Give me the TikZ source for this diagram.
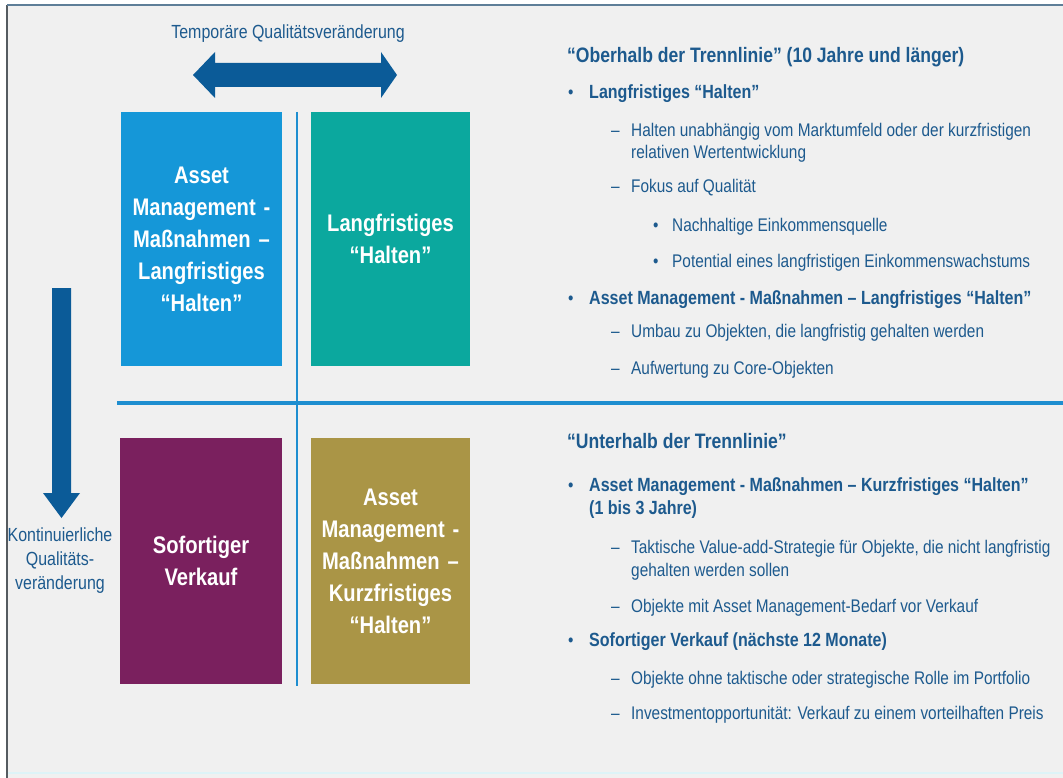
\documentclass[tikz,border=0pt]{standalone}
\usepackage{fontspec}
\setmainfont{Liberation Sans}
\newfontfamily\nar[FakeStretch=0.84]{Liberation Sans}
\definecolor{bg}{HTML}{F0F0F0}
\definecolor{boxblue}{HTML}{1597D8}
\definecolor{boxteal}{HTML}{0BA89E}
\definecolor{boxpurple}{HTML}{7A205E}
\definecolor{boxolive}{HTML}{AA9546}
\definecolor{arrowblue}{HTML}{0B5B98}
\definecolor{txtblue}{HTML}{1D5A8E}
\definecolor{lineblue}{HTML}{1E8ED0}
\definecolor{framegray}{HTML}{555B60}
\definecolor{frametop}{HTML}{5E7E98}
\definecolor{framebot}{HTML}{DDF3F7}
\tikzset{
  qbox/.style={draw=none, inner sep=2pt, align=center, text=white,
    font=\nar\bfseries\fontsize{24}{32}\selectfont, text width=150pt},
  rt/.style={anchor=base west, inner sep=0pt, text=txtblue, font=\nar\fontsize{18.3}{22}\selectfont},
  rb/.style={rt, font=\nar\bfseries\fontsize{19.1}{22}\selectfont},
  rh/.style={rt, font=\nar\bfseries\fontsize{20.9}{24}\selectfont},
  lbl/.style={inner sep=0pt, text=txtblue, font=\nar\fontsize{19}{24}\selectfont, align=center},
  bigarrow/.style={fill=arrowblue, draw=none}
}
\begin{document}
\begin{tikzpicture}[x=1pt, y=-1pt]
\useasboundingbox (0,0) rectangle (1063,778);
\fill[white] (0,0) rectangle (1063,778);
\fill[bg] (7,5) rectangle (1063,778);
\draw[framebot, line width=2.5pt] (7,773) -- (1063,773);
\draw[framegray, line width=1.5pt] (7,5) -- (7,778);
\draw[frametop, line width=1.2pt] (7,5) -- (1063,5);

% divider lines
\draw[lineblue, line width=1.6pt] (297,112) -- (297,686);
\draw[lineblue, line width=4pt] (117,403) -- (1063,403);

% boxes
\node[qbox, fill=boxblue, minimum width=161pt, minimum height=254pt] (amlang) at (201.5,239) {Asset\\Management -\\Maßnahmen –\\Langfristiges\\“Halten”};
\node[qbox, fill=boxteal, minimum width=159pt, minimum height=254pt] (lang) at (390.5,239) {Langfristiges\\“Halten”};
\node[qbox, fill=boxpurple, minimum width=162pt, minimum height=246pt] (sofort) at (201,561) {Sofortiger\\Verkauf};
\node[qbox, fill=boxolive, minimum width=159pt, minimum height=246pt] (amkurz) at (390.5,561) {Asset\\Management -\\Maßnahmen –\\Kurzfristiges\\“Halten”};

% horizontal double arrow
\fill[bigarrow] (193,75) -- (215,52) -- (215,63) -- (381,63) -- (381,52) -- (397,75)
  -- (381,98) -- (381,87) -- (215,87) -- (215,98) -- cycle;
\node[lbl] (temp) at (288,34) {Temporäre Qualitätsveränderung};

% vertical arrow
\fill[bigarrow] (52,288) -- (71,288) -- (71,493) -- (80,493) -- (61.5,518) -- (43,493) -- (52,493) -- cycle;
\node[lbl] (kont) at (60,561) {Kontinuierliche\\Qualitäts-\\veränderung};

% right text - upper
\node[rh] (h1) at (567,63) {“Oberhalb der Trennlinie” (10 Jahre und länger)};
\node[rt] (p1) at (568,99) {•};
\node[rb] (b1) at (589,99) {Langfristiges “Halten”};
\node[rt] (m1) at (611,137) {–};
\node[rt] (d1) at (631,137) {Halten unabhängig vom Marktumfeld oder der kurzfristigen};
\node[rt] (d1b) at (631,159) {relativen Wertentwicklung};
\node[rt] (m2) at (611,193) {–};
\node[rt] (d2) at (631,193) {Fokus auf Qualität};
\node[rt] (p2) at (653,232) {•};
\node[rt] (s1) at (672,232) {Nachhaltige Einkommensquelle};
\node[rt] (p3) at (653,267) {•};
\node[rt] (s2) at (672,267) {Potential eines langfristigen Einkommenswachstums};
\node[rt] (p4) at (568,304) {•};
\node[rb] (b2) at (589,304) {Asset Management - Maßnahmen – Langfristiges “Halten”};
\node[rt] (m3) at (611,337) {–};
\node[rt] (d3) at (631,337) {Umbau zu Objekten, die langfristig gehalten werden};
\node[rt] (m4) at (611,374) {–};
\node[rt] (d4) at (631,374) {Aufwertung zu Core-Objekten};

% right text - lower
\node[rh] (h2) at (567,448) {“Unterhalb der Trennlinie”};
\node[rt] (p5) at (568,491) {•};
\node[rb] (b3) at (589,491) {Asset Management - Maßnahmen – Kurzfristiges “Halten”};
\node[rb] (b3b) at (589,514) {(1 bis 3 Jahre)};
\node[rt] (m5) at (611,553) {–};
\node[rt] (d5) at (631,553) {Taktische Value-add-Strategie für Objekte, die nicht langfristig};
\node[rt] (d5b) at (631,576) {gehalten werden sollen};
\node[rt] (m6) at (611,612) {–};
\node[rt] (d6) at (631,612) {Objekte mit Asset Management-Bedarf vor Verkauf};
\node[rt] (p6) at (568,646) {•};
\node[rb] (b4) at (589,646) {Sofortiger Verkauf (nächste 12 Monate)};
\node[rt] (m7) at (611,684) {–};
\node[rt] (d7) at (631,684) {Objekte ohne taktische oder strategische Rolle im Portfolio};
\node[rt] (m8) at (611,719) {–};
\node[rt] (d8) at (631,719) {Investmentopportunität: Verkauf zu einem vorteilhaften Preis};
\end{tikzpicture}
\end{document}
